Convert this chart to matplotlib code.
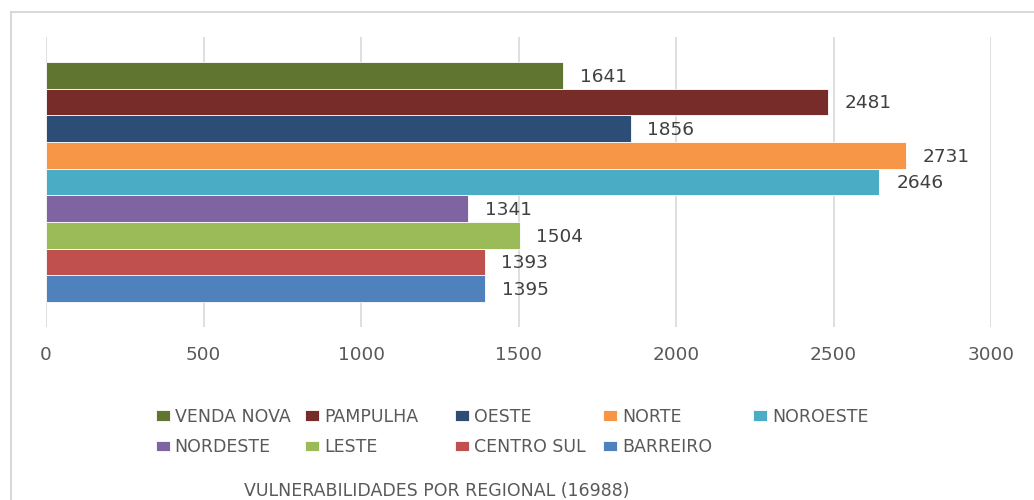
import matplotlib
matplotlib.use('agg')
import matplotlib.pyplot as plt
from matplotlib.patches import Rectangle

# data, from bottom bar to top bar
regionais = ['BARREIRO', 'CENTRO SUL', 'LESTE', 'NORDESTE', 'NOROESTE',
             'NORTE', 'OESTE', 'PAMPULHA', 'VENDA NOVA']
valores = [1395, 1393, 1504, 1341, 2646, 2731, 1856, 2481, 1641]
cores = ['#4f81bd', '#c0504d', '#9bbb59', '#8064a2', '#4bacc6',
         '#f79646', '#2c4d75', '#772c2a', '#5f7530']
xticks = [0, 500, 1000, 1500, 2000, 2500, 3000]
titulo = 'VULNERABILIDADES POR REGIONAL (16988)'

plt.rcParams['font.family'] = ['DejaVu Sans']

fig = plt.figure(figsize=(10.34, 5), dpi=100)
ax = fig.add_axes([46/1034, 1-327/500, (991-46)/1034, (327-37)/500])

bars = []
for i in range(len(regionais)):
    b = ax.barh(i, valores[i], height=1.0, color=cores[i], edgecolor='white',
                linewidth=0.6, label=regionais[i], zorder=3)
    bars.append(b)
    ax.annotate(str(valores[i]), xy=(valores[i], i), xytext=(12, -1),
                textcoords='offset points', ha='left', va='center',
                fontsize=13.3, color='#404040')

ax.set_xlim(0, 3000)
ax.set_ylim(-1.44, 9.44)
ax.set_xticks(xticks)
ax.set_xticklabels([str(t) for t in xticks], fontsize=13.3, color='#595959')
ax.set_yticks([])
ax.tick_params(axis='x', length=0, pad=14)
ax.grid(axis='x', color='#d9d9d9', linewidth=1.2, zorder=0)
for s in ax.spines.values():
    s.set_visible(False)

# legend: five columns, filled row by row starting with the top bar
ordem = list(reversed(range(len(regionais))))
colunas_x = [156, 305, 455, 603, 753]
for c in range(5):
    idx = ordem[c::5]
    fig.legend([bars[k] for k in idx], [regionais[k] for k in idx],
               loc='upper left', bbox_to_anchor=(colunas_x[c]/1034, 1-408/500),
               frameon=False, fontsize=12.5, handlelength=0.78,
               handleheight=0.58, handletextpad=0.3, labelspacing=0.7,
               borderpad=0, borderaxespad=0, labelcolor='#595959')

fig.text(437/1034, 1-491/500, titulo, ha='center', va='center',
         fontsize=12.5, color='#595959')

# outer frame of the chart area
fig.patches.append(Rectangle((11/1034, -0.1), 1.2, 1-12/500+0.1,
                             transform=fig.transFigure, fill=False,
                             edgecolor='#d9d9d9', linewidth=1.5))

fig.savefig('out.png', dpi=100)
